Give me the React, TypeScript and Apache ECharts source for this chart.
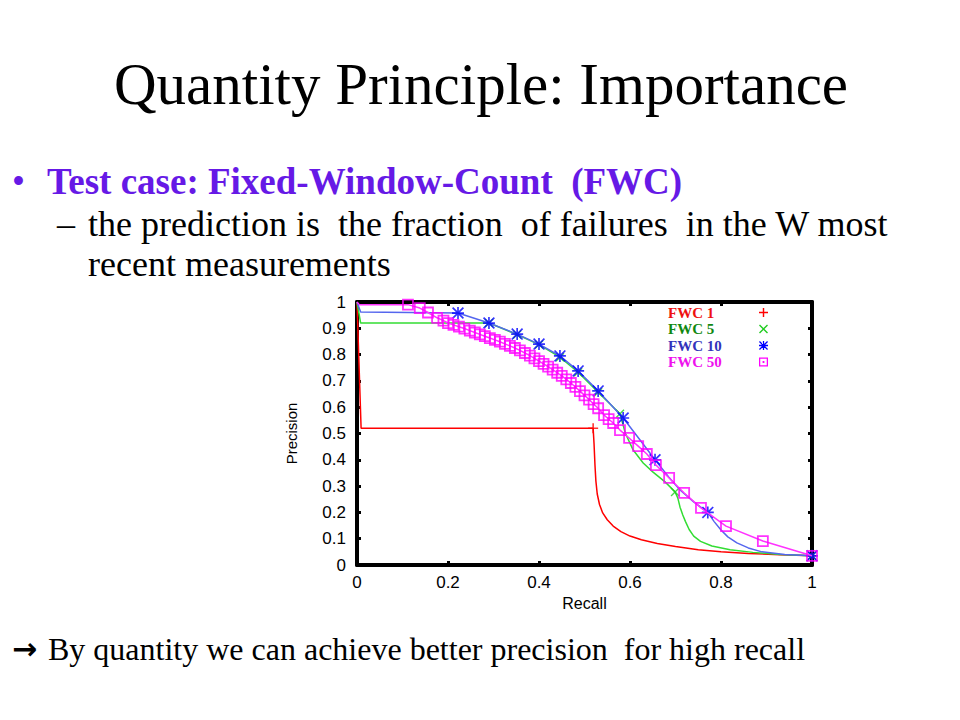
import React, { useEffect, useRef } from "react";
import * as echarts from "echarts";

// ---- data ----
const seriesNames = ["FWC 1", "FWC 5", "FWC 10", "FWC 50"];

const fwc1Curve: [number, number][] = [
  [0, 1], [0.009, 0.52], [0.519, 0.52], [0.521, 0.46], [0.523, 0.38], [0.525, 0.32],
  [0.528, 0.27], [0.533, 0.23], [0.54, 0.198], [0.55, 0.172], [0.563, 0.148], [0.58, 0.127],
  [0.6, 0.11], [0.625, 0.096], [0.66, 0.082], [0.7, 0.07], [0.75, 0.058], [0.8, 0.05],
  [0.86, 0.044], [0.93, 0.039], [1, 0.035],
];
const fwc1Marks: [number, number][] = [[0.519, 0.52], [1, 0.035]];

const fwc5Curve: [number, number][] = [
  [0, 1], [0.008, 0.92], [0.29, 0.92], [0.352, 0.876], [0.4, 0.838], [0.446, 0.79],
  [0.486, 0.733], [0.53, 0.657], [0.578, 0.575], [0.59, 0.5], [0.607, 0.437], [0.629, 0.388],
  [0.65, 0.354], [0.677, 0.316], [0.699, 0.278], [0.705, 0.255], [0.71, 0.22], [0.716, 0.19],
  [0.722, 0.165], [0.73, 0.135], [0.74, 0.11], [0.755, 0.09], [0.78, 0.072], [0.82, 0.058],
  [0.87, 0.048], [0.93, 0.04], [1, 0.035],
];
const fwc5Marks: [number, number][] = [
  [0.29, 0.92], [0.352, 0.876], [0.4, 0.838], [0.446, 0.79], [0.486, 0.733], [0.53, 0.657],
  [0.578, 0.575], [0.699, 0.278], [1, 0.035],
];

const fwc10Curve: [number, number][] = [
  [0, 1], [0.008, 0.962], [0.222, 0.958], [0.29, 0.92], [0.352, 0.878], [0.4, 0.84],
  [0.446, 0.795], [0.486, 0.738], [0.53, 0.662], [0.585, 0.559], [0.62, 0.48], [0.655, 0.4],
  [0.685, 0.335], [0.71, 0.285], [0.74, 0.24], [0.771, 0.2], [0.785, 0.165], [0.8, 0.133],
  [0.815, 0.107], [0.835, 0.084], [0.86, 0.065], [0.89, 0.05], [0.94, 0.04], [1, 0.035],
];
const fwc10Marks: [number, number][] = [
  [0.222, 0.958], [0.29, 0.92], [0.352, 0.878], [0.4, 0.84], [0.446, 0.795], [0.486, 0.738],
  [0.53, 0.662], [0.585, 0.559], [0.655, 0.4], [0.771, 0.2], [1, 0.035],
];

const fwc50Curve: [number, number][] = [
  [0, 1], [0.005, 0.99], [0.112, 0.99], [0.138, 0.977], [0.156, 0.96], [0.176, 0.94],
  [0.19, 0.929], [0.2, 0.92], [0.212, 0.913], [0.224, 0.906], [0.236, 0.899], [0.248, 0.891],
  [0.259, 0.884], [0.27, 0.877], [0.281, 0.87], [0.292, 0.863], [0.303, 0.856], [0.314, 0.849],
  [0.325, 0.841], [0.336, 0.833], [0.347, 0.825], [0.358, 0.816], [0.369, 0.806], [0.38, 0.796],
  [0.39, 0.786], [0.4, 0.775], [0.41, 0.765], [0.42, 0.754], [0.43, 0.743], [0.44, 0.731],
  [0.45, 0.719], [0.46, 0.706], [0.47, 0.692], [0.48, 0.677], [0.49, 0.661], [0.5, 0.645],
  [0.51, 0.629], [0.52, 0.612], [0.53, 0.596], [0.543, 0.57], [0.553, 0.555], [0.563, 0.54],
  [0.578, 0.513], [0.598, 0.483], [0.618, 0.452], [0.637, 0.422], [0.657, 0.38], [0.686, 0.331],
  [0.719, 0.274], [0.756, 0.217], [0.811, 0.148], [0.892, 0.091], [1, 0.035],
];
const fwc50Marks: [number, number][] = fwc50Curve.slice(2);

const xTicks = { min: 0, max: 1, interval: 0.2 };
const yTicks = { min: 0, max: 1, interval: 0.1 };

const slideTitle = "Quantity Principle: Importance";
const bulletText = "Test case: Fixed-Window-Count  (FWC)";
const subLine1 = "the prediction is  the fraction  of failures  in the W most";
const subLine2 = "recent measurements";
const bottomText = "By quantity we can achieve better precision  for high recall";

// ---- styles ----
const lineColors = ["#ff0000", "#33dd33", "#5566ee", "#ff33ff"];
const markColors = ["#ff0000", "#22cc22", "#0000ff", "#ff00ff"];
const legendTextColors = ["#ee1111", "#118811", "#3333bb", "#ee11ee"];

const PLUS = "path://M4.2,0h1.6v10h-1.6zM0,4.2h10v1.6h-10z";
const CROSS =
  "path://M1.1,0L5,3.9L8.9,0L10,1.1L6.1,5L10,8.9L8.9,10L5,6.1L1.1,10L0,8.9L3.9,5L0,1.1z";
const STAR =
  "path://M4.3,0h1.4v10h-1.4zM0,4.3h10v1.4h-10zM1,0L5,4L9,0L10,1L6,5L10,9L9,10L5,6L1,10L0,9L4,5L0,1z";
const BOXDOT = "path://M0,0h10v10h-10zM1.4,1.4v7.2h7.2v-7.2zM4,4h2v2h-2z";
const legendIcons = [PLUS, CROSS, STAR, BOXDOT];

const SERIF = "'Liberation Serif', 'Times New Roman', serif";
const SANS = "'Liberation Sans', Arial, sans-serif";

export default function App() {
  const ref = useRef<HTMLDivElement>(null);

  useEffect(() => {
    if (!ref.current) return;
    const chart = echarts.init(ref.current, null, { renderer: "svg" });

    const axisLine = { show: true, onZero: false, lineStyle: { color: "#000", width: 4 } };
    const axisTick = { show: true, inside: true, length: 4, lineStyle: { color: "#000", width: 3 } };
    const labelStyle = { fontFamily: SANS, fontSize: 17, color: "#000" };

    const curves = [fwc1Curve, fwc5Curve, fwc10Curve, fwc50Curve];
    const marks = [fwc1Marks, fwc5Marks, fwc10Marks, fwc50Marks];
    const markSymbols = [PLUS, CROSS, STAR, "rect"];
    const markSizes = [10, 9, 12, 10];

    const series: any[] = [];
    seriesNames.forEach((name, i) => {
      series.push({
        type: "line",
        name,
        data: curves[i],
        symbol: "none",
        lineStyle: { color: lineColors[i], width: 1.5 },
        itemStyle: { color: lineColors[i] },
        z: 2 + i * 2,
        silent: true,
      });
      series.push({
        type: "scatter",
        name: name + " points",
        data: marks[i],
        symbol: markSymbols[i],
        symbolSize: markSizes[i],
        itemStyle:
          i === 3
            ? { color: "rgba(0,0,0,0)", borderColor: markColors[i], borderWidth: 1.8 }
            : { color: markColors[i] },
        z: 3 + i * 2,
        silent: true,
      });
    });

    const text = (t: string, x: number, y: number, size: number, extra: any = {}) => ({
      type: "text",
      x,
      y,
      style: {
        text: t,
        fontFamily: SERIF,
        fontSize: size,
        fill: "#000",
        align: "left",
        verticalAlign: "middle",
        ...extra,
      },
    });

    const legends = seriesNames.map((n, i) => ({
      orient: "vertical",
      left: 668,
      top: 305 + 16.5 * i,
      align: "right",
      padding: 0,
      itemWidth: 9,
      itemHeight: 9,
      itemGap: 0,
      selectedMode: false,
      itemStyle: { borderWidth: 0 },
      formatter: (name: string) => `{t|${name}}`,
      textStyle: {
        fontFamily: SERIF,
        fontWeight: "bold",
        fontSize: 15,
        color: legendTextColors[i],
        rich: {
          t: {
            width: 86,
            align: "left",
            fontFamily: SERIF,
            fontWeight: "bold",
            fontSize: 15,
            color: legendTextColors[i],
          },
        },
      },
      data: [
        {
          name: n,
          icon: legendIcons[i],
          itemStyle: { color: markColors[i], borderWidth: 0 },
        },
      ],
    }));

    chart.setOption({
      animation: false,
      backgroundColor: "#fff",
      grid: { left: 357, right: 148, top: 302, bottom: 155, containLabel: false },
      xAxis: [
        {
          type: "value",
          ...xTicks,
          position: "bottom",
          name: "Recall",
          nameLocation: "middle",
          nameGap: 30,
          nameTextStyle: { fontFamily: SANS, fontSize: 16, color: "#000" },
          axisLine,
          axisTick,
          axisLabel: { ...labelStyle, margin: 9 },
          splitLine: { show: false },
        },
        {
          type: "value",
          ...xTicks,
          position: "top",
          axisLine,
          axisTick,
          axisLabel: { show: false },
          splitLine: { show: false },
        },
      ],
      yAxis: [
        {
          type: "value",
          ...yTicks,
          position: "left",
          name: "Precision",
          nameLocation: "middle",
          nameGap: 58,
          nameTextStyle: { fontFamily: SANS, fontSize: 15, color: "#000" },
          axisLine,
          axisTick,
          axisLabel: { ...labelStyle, margin: 11 },
          splitLine: { show: false },
        },
        {
          type: "value",
          ...yTicks,
          position: "right",
          axisLine,
          axisTick,
          axisLabel: { show: false },
          splitLine: { show: false },
        },
      ],
      legend: legends,
      graphic: [
        text(slideTitle, 481, 84, 59, { align: "center" }),
        text("•", 12, 181, 37, { fill: "#6619e6" }),
        text(bulletText, 47, 181, 37, { fill: "#6619e6", fontWeight: "bold" }),
        text("–", 57, 224, 36),
        text(subLine1, 88, 224, 36),
        text(subLine2, 88, 264, 36),
        text("→", 12, 648, 30, { fontFamily: "'DejaVu Sans', sans-serif", fontWeight: "bold" }),
        text(bottomText, 48, 649, 32),
      ],
      series,
    });

    return () => chart.dispose();
  }, []);

  return (
    <div
      ref={ref}
      style={{ position: "absolute", left: 0, top: 0, width: 960, height: 720, background: "#fff" }}
    />
  );
}
